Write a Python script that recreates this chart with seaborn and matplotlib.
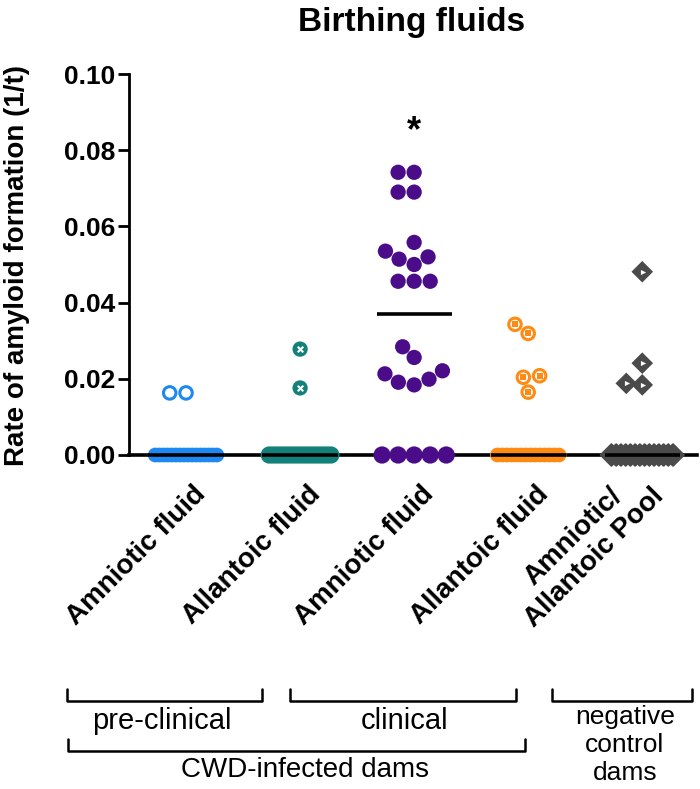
import matplotlib
matplotlib.use("Agg")
import numpy as np
import pandas as pd
import matplotlib.pyplot as plt
import matplotlib.transforms as mtransforms
import seaborn as sns
from matplotlib.lines import Line2D

# Groups (left to right) and their tick labels
groups = ["pre_amniotic", "pre_allantoic", "clin_amniotic", "clin_allantoic", "neg_pool"]
tick_labels = ["Amniotic fluid", "Allantoic fluid", "Amniotic fluid",
               "Allantoic fluid", "Amniotic/\nAllantoic Pool"]

# Rate of amyloid formation (1/t) per sample
pre_amniotic = [0.0163, 0.0163] + [0.0] * 16
pre_allantoic = [0.0278, 0.0176] + [0.0] * 16
clin_amniotic = [0.0742, 0.0742, 0.0690, 0.0690, 0.0558, 0.0535, 0.0520, 0.0514,
                 0.0500, 0.0456, 0.0456, 0.0456, 0.0284, 0.0256, 0.0221, 0.0213,
                 0.0199, 0.0191, 0.0184, 0.0, 0.0, 0.0, 0.0, 0.0]
clin_allantoic = [0.0343, 0.0319, 0.0208, 0.0204, 0.0165] + [0.0] * 14
neg_pool = [0.0481, 0.0241, 0.0188, 0.0184] + [0.0] * 14

values = [pre_amniotic, pre_allantoic, clin_amniotic, clin_allantoic, neg_pool]
colors = ["#1E88F2", "#13807A", "#4B0C8A", "#FF8A14", "#4A4A4A"]

df = pd.DataFrame({
    "group": np.repeat(groups, [len(v) for v in values]),
    "rate": np.concatenate(values),
})

sns.set_theme(style="ticks")
plt.rcParams["font.family"] = ["Liberation Sans", "DejaVu Sans"]
for key in ["text.color", "axes.labelcolor", "xtick.color", "ytick.color", "axes.edgecolor"]:
    plt.rcParams[key] = "black"

W, H = 700, 789
fig = plt.figure(figsize=(W / 100, H / 100), dpi=100)
ax = fig.add_axes([129 / W, 1 - 455 / H, 568 / W, 381 / H])

# marker, size, open ring?
styles = {
    "pre_amniotic": ("o", 9, True),
    "pre_allantoic": ("o", 11, False),
    "clin_amniotic": ("o", 11, False),
    "clin_allantoic": ("o", 9, True),
    "neg_pool": ("D", 11, False),
}

colls = {}
for g, c in zip(groups, colors):
    marker, size, ring = styles[g]
    before = len(ax.collections)
    sns.swarmplot(data=df[df["group"] == g], x="group", y="rate", order=groups,
                  color=c, marker=marker, size=size, linewidth=0, ax=ax,
                  warn_thresh=1, clip_on=False, zorder=3)
    new = ax.collections[before:]
    for coll in new:
        if ring:
            coll.set_facecolor("white")
            coll.set_edgecolor(c)
            coll.set_linewidth(2.2)
    colls[g] = new

ax.set_xlim(-0.5, 4.48)
ax.set_ylim(0, 0.10)

# let seaborn lay out the swarms, then freeze them
fig.canvas.draw()
for i, g in enumerate(groups):
    c = colors[i]
    ring = styles[g][2]
    for coll in colls[g]:
        coll.__dict__.pop("draw", None)
        xy = np.array(coll.get_offsets())
        if len(xy) == 0:
            continue
        zero = np.isclose(xy[:, 1], 0)
        idx = np.where(zero)[0]
        dx = xy[idx, 0] - i
        # crowded zero rows: even them out into a pill like the original
        if len(idx) and np.abs(dx).max() > 0.39:
            ranked = idx[np.argsort(dx, kind="stable")]
            xy[ranked, 0] = i + np.linspace(-0.27, 0.27, len(idx))
        coll.set_offsets(xy)
        coll.set_edgecolor(c)
        if ring:
            coll.set_facecolors([c if z else "white" for z in zero])
            coll.set_linewidths([1.6 if z else 2.2 for z in zero])
        else:
            coll.set_linewidths([1.4 if z else 0 for z in zero])
        nz = xy[~zero]
        if g == "pre_allantoic":
            ax.scatter(nz[:, 0], nz[:, 1], marker="x", s=16, c="white",
                       linewidths=1.5, zorder=4, clip_on=False)
        elif g == "clin_allantoic":
            ax.scatter(nz[:, 0], nz[:, 1], marker="s", s=14, c=c,
                       linewidths=0, zorder=4, clip_on=False)
        elif g == "neg_pool":
            ax.scatter(nz[:, 0] + 0.01, nz[:, 1], marker=">", s=14, c="white",
                       linewidths=0, zorder=4, clip_on=False)

# median lines
med = df.groupby("group")["rate"].median().reindex(groups)
pos = np.arange(len(groups))
ax.hlines(med.values, pos - 0.33, pos + 0.33, color="black", lw=2.6,
          zorder=6, clip_on=False)

sns.despine(ax=ax)
ax.spines["left"].set_linewidth(2)
ax.spines["bottom"].set_linewidth(2.6)
ax.set_xlabel("")
ax.set_ylabel("")

ax.set_yticks([0, 0.02, 0.04, 0.06, 0.08, 0.10])
ax.set_yticklabels([f"{v:.2f}" for v in [0, 0.02, 0.04, 0.06, 0.08, 0.10]],
                   fontsize=19, fontweight="bold")
ax.tick_params(axis="y", length=8, width=2, pad=2)
ax.set_xticks(pos)
ax.set_xticklabels(tick_labels, rotation=45, ha="right", va="top",
                   rotation_mode="anchor", fontsize=20, fontweight="bold",
                   multialignment="center")
ax.tick_params(axis="x", length=4, width=2, pad=15)
shift = mtransforms.ScaledTranslation(0.07, 0, fig.dpi_scale_trans)
for lab in ax.get_xticklabels():
    lab.set_transform(lab.get_transform() + shift)
ax.get_xticklabels()[-1].set_va("center")

ax.text(2, 0.0848, "*", ha="center", va="center", fontsize=26, fontweight="bold")

fig.text(412 / W, 1 - 22 / H, "Birthing fluids", ha="center", va="center",
         fontsize=24, fontweight="bold")
fig.text(17 / W, 1 - 265 / H, "Rate of amyloid formation (1/t)", rotation=90,
         ha="center", va="center", fontsize=20, fontweight="bold")

# group brackets under the tick labels
def bracket(x0, x1, ytop, ybot):
    fig.add_artist(Line2D([x0 / W, x0 / W, x1 / W, x1 / W],
                          [1 - ytop / H, 1 - ybot / H, 1 - ybot / H, 1 - ytop / H],
                          color="black", lw=1.8, transform=fig.transFigure))

bracket(67, 262, 689, 701)
bracket(290, 516, 689, 701)
bracket(552, 692, 689, 701)
bracket(68, 525, 739, 751)
fig.text(162 / W, 1 - 721 / H, "pre-clinical", ha="center", va="center", fontsize=21)
fig.text(405 / W, 1 - 721 / H, "clinical", ha="center", va="center", fontsize=21)
fig.text(305 / W, 1 - 770 / H, "CWD-infected dams", ha="center", va="center", fontsize=20)
fig.text(625 / W, 1 - 745 / H, "negative\ncontrol\ndams", ha="center", va="center",
         fontsize=19, linespacing=1.2)

fig.savefig("out.png", dpi=100)
